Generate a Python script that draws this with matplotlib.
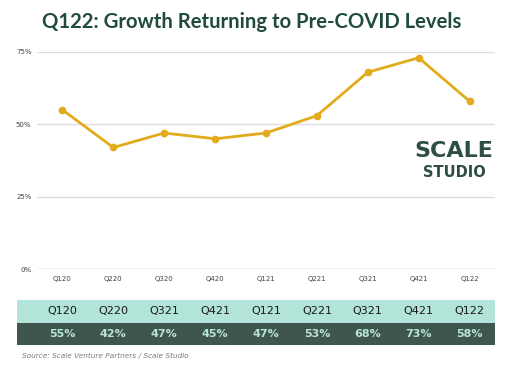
import matplotlib
matplotlib.use("Agg")
import matplotlib.pyplot as plt
from matplotlib.patches import Rectangle

quarters = ["Q120", "Q220", "Q320", "Q420", "Q121", "Q221", "Q321", "Q421", "Q122"]
growth = [55, 42, 47, 45, 47, 53, 68, 73, 58]
# the table in the source image labels its columns like this
table_labels = ["Q120", "Q220", "Q321", "Q421", "Q121", "Q221", "Q321", "Q421", "Q122"]
yticks = [0, 25, 50, 75]

GOLD = "#E2AB1B"
DARK = "#1F4A3D"
MINT = "#B3E4DA"
TABLE_DARK = "#3F564F"

W, H = 512, 384
fig = plt.figure(figsize=(W / 100, H / 100), dpi=100, facecolor="white")

def px_axes(x0, y0, x1, y1):
    return fig.add_axes([x0 / W, 1 - y1 / H, (x1 - x0) / W, (y1 - y0) / H])

ax = px_axes(37, 52, 495, 269)
ax.plot(range(len(growth)), growth, color=GOLD, lw=2.0, marker="o", ms=4.5,
        solid_joinstyle="round", zorder=3)
ax.set_xlim(-0.5, 8.5)
ax.set_ylim(0, 75)
ax.set_yticks(yticks, [f"{v}%" for v in yticks], fontsize=5, color="#444444")
ax.set_xticks(range(len(quarters)), quarters, fontsize=5, color="#444444")
ax.tick_params(axis="y", length=0, pad=4)
ax.tick_params(axis="x", length=0, pad=5)
for v in yticks:
    ax.axhline(v, color="#BBBBBB" if v == 0 else "#DDDDDD", lw=1.0, zorder=1)
for s in ax.spines.values():
    s.set_visible(False)
ax.set_facecolor("none")

fig.text(252 / W, 1 - 22 / H, "Q122: Growth Returning to Pre-COVID Levels",
         ha="center", va="center", fontsize=14.6, color=DARK,
         family=["Lato", "DejaVu Sans"], weight="bold")

fig.text(454 / W, 1 - 151 / H, "SCALE", ha="center", va="center",
         fontsize=16, weight="bold", color="#2E4D44", family="DejaVu Sans")
fig.text(454 / W, 1 - 172 / H, "STUDIO", ha="center", va="center",
         fontsize=10.5, weight="bold", color="#2E4D44", family="DejaVu Sans")

# table strip under the chart, using the same x scale as the line
tab = px_axes(17, 300, 495, 345)
left = -0.5 - 20 / 50.9
tab.set_xlim(left, 8.5)
tab.set_ylim(0, 2)
tab.axis("off")
tab.add_patch(Rectangle((left, 1), 8.5 - left, 1, color=MINT, lw=0))
tab.add_patch(Rectangle((left, 0), 8.5 - left, 1, color=TABLE_DARK, lw=0))
for i, (lab, val) in enumerate(zip(table_labels, growth)):
    tab.text(i, 1.5, lab, ha="center", va="center", fontsize=8,
             color="#1A1A1A", weight="medium")
    tab.text(i, 0.5, f"{val}%", ha="center", va="center", fontsize=8,
             color="#B9E4D9", weight="bold")

fig.text(22 / W, 1 - 356 / H, "Source: Scale Venture Partners / Scale Studio",
         ha="left", va="center", fontsize=5.3, style="italic", color="#7A7A7A")

fig.savefig("out.png", dpi=100, facecolor="white")
